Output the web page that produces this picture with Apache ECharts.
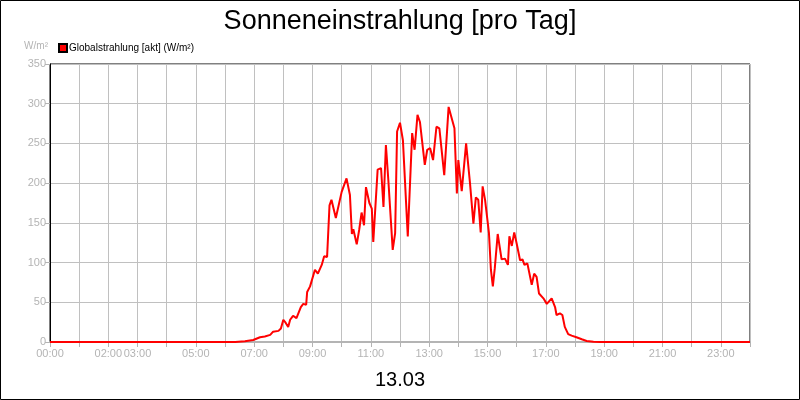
<html>
<head>
    <meta charset="utf-8">
    <title>Sonneneinstrahlung</title>
    <script src="https://cdn.jsdelivr.net/npm/echarts@6/dist/echarts.min.js"></script>
    <style>
        body { margin: 0; background: #fff; }
        #chart { width: 800px; height: 400px; }
    </style>
</head>
<body>
<div id="chart"></div>
<script type="text/javascript">
    // Minuten seit Mitternacht
    var minuten = [0, 381, 401, 418, 432, 442, 453, 459, 470, 475, 480, 485, 490, 494, 500, 507, 511, 516, 521, 527,
        529, 535, 545, 551, 559, 564, 570, 575, 579, 583, 588, 591, 600, 610, 617, 621, 624, 627, 631, 636,
        641, 646, 650, 657, 662, 665, 674, 681, 686, 691, 696, 705, 710, 714, 720, 726, 736, 745, 750, 756,
        761, 771, 776, 782, 788, 795, 801, 811, 820, 832, 837, 840, 847, 850, 856, 864, 871, 876, 881, 886,
        890, 895, 903, 907, 911, 915, 921, 929, 936, 942, 945, 950, 955, 960, 967, 972, 976, 982, 991, 996,
        1001, 1006, 1015, 1022, 1032, 1039, 1042, 1049, 1054, 1059, 1066, 1073, 1083, 1094, 1104, 1118, 1131, 1440];
    // Globalstrahlung W/m²
    var strahlung = [0, 0, 1, 2.5, 6, 7, 9, 13, 14, 17, 28, 24, 19, 28, 33, 30, 31, 44, 48, 47,
        63, 70, 91, 86, 97, 108, 107, 172, 179, 179, 156, 154, 189, 206, 185, 136, 142, 141, 123, 141,
        163, 147, 195, 175, 168, 126, 217, 219, 170, 248, 204, 116, 137, 265, 276, 254, 133, 263, 242, 286,
        277, 223, 242, 244, 229, 271, 269, 210, 296, 269, 187, 229, 190, 191, 250, 200, 149, 182, 179, 138,
        196, 179, 137, 91, 70, 93, 136, 104, 105, 97, 133, 121, 138, 124, 103, 104, 97, 99, 72, 86,
        82, 61, 55, 48, 55, 44, 34, 36, 34, 19, 10, 8, 6, 3.4, 1.3, 0.4, 0, 0];
    // beschriftete Stunden
    var stundenLabels = ['00:00', '02:00', '03:00', '05:00', '07:00', '09:00', '11:00', '13:00', '15:00', '17:00', '19:00', '21:00', '23:00'];

    var daten = [];
    for (var i = 0; i < minuten.length; i++) {
        daten.push([minuten[i], strahlung[i]]);
    }

    function hhmm(v) {
        var h = Math.floor(v / 60), m = v % 60;
        return (h < 10 ? '0' : '') + h + ':' + (m < 10 ? '0' : '') + m;
    }

    var grau = '#b4b4b4';
    var myChart = echarts.init(document.getElementById('chart'));
    var option = {
        animation: false,
        textStyle: { fontFamily: 'Liberation Sans, Arial, sans-serif' },
        title: {
            text: 'Sonneneinstrahlung [pro Tag]',
            left: 'center',
            top: 3,
            textStyle: { fontSize: 27, fontWeight: 'normal', color: '#000' }
        },
        legend: {
            left: 53,
            top: 38,
            icon: 'rect',
            itemWidth: 8,
            itemHeight: 8,
            itemGap: 10,
            textStyle: { fontSize: 10, color: '#000', padding: [0, 0, 0, -3] },
            data: ['Globalstrahlung [akt] (W/m²)']
        },
        grid: {
            left: 50,
            right: 50,
            top: 64,
            bottom: 58,
            show: true,
            borderColor: '#000',
            borderWidth: 1
        },
        graphic: [
            {
                type: 'rect',
                shape: { x: 0.5, y: 0.5, width: 799, height: 399 },
                style: { fill: 'none', stroke: '#000', lineWidth: 1 }
            },
            {
                type: 'text',
                x: 48, y: 46,
                style: { text: 'W/m²', fill: grau, fontSize: 10, align: 'right', verticalAlign: 'middle', fontFamily: 'Liberation Sans' }
            }
        ],
        xAxis: {
            type: 'value',
            min: 0,
            max: 1440,
            interval: 60,
            name: '13.03',
            nameLocation: 'middle',
            nameGap: 28,
            nameTextStyle: { fontSize: 20, color: '#000' },
            axisLine: { lineStyle: { color: grau, width: 2 } },
            axisTick: { show: true, length: 5, lineStyle: { color: grau } },
            axisLabel: {
                color: grau,
                fontSize: 11,
                margin: 6,
                formatter: function (v) {
                    var s = hhmm(v);
                    return stundenLabels.indexOf(s) >= 0 ? s : '';
                }
            },
            splitLine: { show: true, lineStyle: { color: '#c0c0c0' } }
        },
        yAxis: {
            type: 'value',
            min: 0,
            max: 350,
            interval: 50,
            axisLine: { show: true, lineStyle: { color: '#000' } },
            axisTick: { show: true, length: 5, lineStyle: { color: grau } },
            axisLabel: { color: grau, fontSize: 11, margin: 4 },
            splitLine: { show: true, lineStyle: { color: '#c0c0c0' } }
        },
        series: [
            {
                name: 'Globalstrahlung [akt] (W/m²)',
                type: 'line',
                showSymbol: false,
                symbol: 'none',
                itemStyle: { color: '#ff0000', borderColor: '#000', borderWidth: 1 },
                lineStyle: { color: '#ff0000', width: 2 },
                data: daten
            }
        ]
    };
    myChart.setOption(option);
</script>
</body>
</html>
